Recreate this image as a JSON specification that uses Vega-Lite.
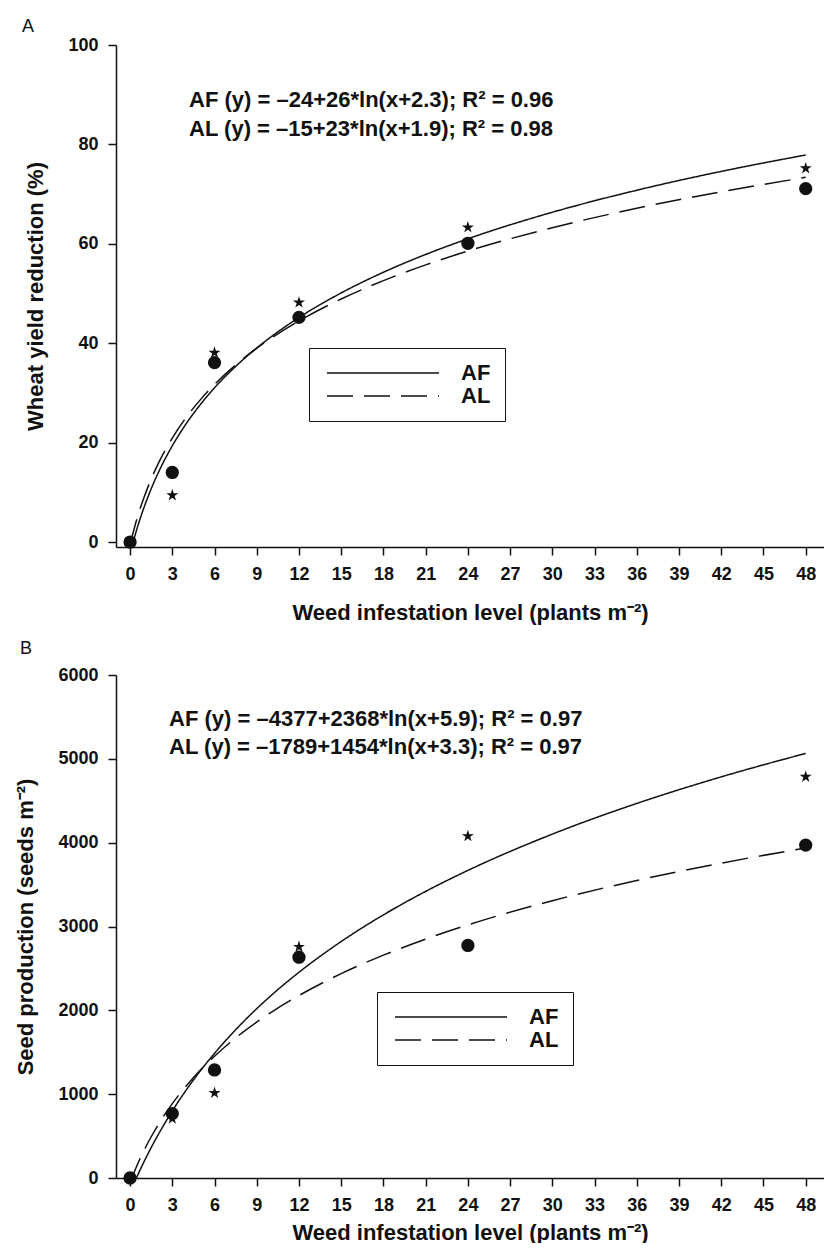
{
  "$schema": "https://vega.github.io/schema/vega-lite/v6.json",
  "background": "white",
  "padding": {"left": 14, "top": 18, "right": 0, "bottom": 0},
  "spacing": 17,
  "config": {
    "view": {"stroke": null},
    "font": "Liberation Sans",
    "axis": {
      "domainColor": "#111", "domainWidth": 1.5, "tickColor": "#111", "tickWidth": 1.5, "tickSize": 8,
      "labelFont": "Liberation Sans", "labelFontSize": 18, "labelFontWeight": "bold", "labelColor": "#111", "labelPadding": 10,
      "titleFont": "Liberation Sans", "titleFontSize": 22, "titleFontWeight": "bold", "titleColor": "#111",
      "grid": false, "labelOverlap": false, "labelFlush": false
    },
    "axisY": {"titlePadding": 20},
    "axisX": {"titlePadding": 19},
    "title": {"font": "Liberation Sans", "fontSize": 18, "fontWeight": "normal", "color": "#111", "anchor": "start", "frame": "group"}
  },
  "datasets": {
    "curves": [
      {"p":"A","s":"AF","x":0,"y":-2.34},{"p":"A","s":"AF","x":0.5,"y":2.77},{"p":"A","s":"AF","x":1,"y":7.04},{"p":"A","s":"AF","x":1.5,"y":10.71},{"p":"A","s":"AF","x":2,"y":13.92},{"p":"A","s":"AF","x":3,"y":19.36},{"p":"A","s":"AF","x":4,"y":23.86},{"p":"A","s":"AF","x":5,"y":27.69},{"p":"A","s":"AF","x":6,"y":31.02},{"p":"A","s":"AF","x":8,"y":36.63},{"p":"A","s":"AF","x":10,"y":41.25},{"p":"A","s":"AF","x":12,"y":45.17},{"p":"A","s":"AF","x":15,"y":50.12},{"p":"A","s":"AF","x":18,"y":54.28},{"p":"A","s":"AF","x":21,"y":57.86},{"p":"A","s":"AF","x":24,"y":61.01},{"p":"A","s":"AF","x":30,"y":66.35},{"p":"A","s":"AF","x":36,"y":70.78},{"p":"A","s":"AF","x":42,"y":74.57},{"p":"A","s":"AF","x":48,"y":77.87},
      {"p":"A","s":"AL","x":0,"y":-0.49},{"p":"A","s":"AL","x":0.5,"y":4.79},{"p":"A","s":"AL","x":1,"y":9.06},{"p":"A","s":"AL","x":1.5,"y":12.66},{"p":"A","s":"AL","x":2,"y":15.76},{"p":"A","s":"AL","x":3,"y":20.92},{"p":"A","s":"AL","x":4,"y":25.12},{"p":"A","s":"AL","x":5,"y":28.65},{"p":"A","s":"AL","x":6,"y":31.71},{"p":"A","s":"AL","x":8,"y":36.81},{"p":"A","s":"AL","x":10,"y":40.97},{"p":"A","s":"AL","x":12,"y":44.48},{"p":"A","s":"AL","x":15,"y":48.9},{"p":"A","s":"AL","x":18,"y":52.59},{"p":"A","s":"AL","x":21,"y":55.76},{"p":"A","s":"AL","x":24,"y":58.54},{"p":"A","s":"AL","x":30,"y":63.25},{"p":"A","s":"AL","x":36,"y":67.15},{"p":"A","s":"AL","x":42,"y":70.47},{"p":"A","s":"AL","x":48,"y":73.37},
      {"p":"B","s":"AF","x":0,"y":-174},{"p":"B","s":"AF","x":0.5,"y":19},{"p":"B","s":"AF","x":1,"y":197},{"p":"B","s":"AF","x":1.5,"y":363},{"p":"B","s":"AF","x":2,"y":517},{"p":"B","s":"AF","x":3,"y":800},{"p":"B","s":"AF","x":4,"y":1052},{"p":"B","s":"AF","x":5,"y":1280},{"p":"B","s":"AF","x":6,"y":1487},{"p":"B","s":"AF","x":8,"y":1855},{"p":"B","s":"AF","x":10,"y":2174},{"p":"B","s":"AF","x":12,"y":2454},{"p":"B","s":"AF","x":15,"y":2821},{"p":"B","s":"AF","x":18,"y":3139},{"p":"B","s":"AF","x":21,"y":3419},{"p":"B","s":"AF","x":24,"y":3669},{"p":"B","s":"AF","x":30,"y":4102},{"p":"B","s":"AF","x":36,"y":4468},{"p":"B","s":"AF","x":42,"y":4785},{"p":"B","s":"AF","x":48,"y":5065},
      {"p":"B","s":"AL","x":0,"y":-53},{"p":"B","s":"AL","x":0.5,"y":152},{"p":"B","s":"AL","x":1,"y":332},{"p":"B","s":"AL","x":1.5,"y":492},{"p":"B","s":"AL","x":2,"y":636},{"p":"B","s":"AL","x":3,"y":887},{"p":"B","s":"AL","x":4,"y":1101},{"p":"B","s":"AL","x":5,"y":1288},{"p":"B","s":"AL","x":6,"y":1453},{"p":"B","s":"AL","x":8,"y":1737},{"p":"B","s":"AL","x":10,"y":1974},{"p":"B","s":"AL","x":12,"y":2177},{"p":"B","s":"AL","x":15,"y":2438},{"p":"B","s":"AL","x":18,"y":2658},{"p":"B","s":"AL","x":21,"y":2850},{"p":"B","s":"AL","x":24,"y":3019},{"p":"B","s":"AL","x":30,"y":3308},{"p":"B","s":"AL","x":36,"y":3549},{"p":"B","s":"AL","x":42,"y":3756},{"p":"B","s":"AL","x":48,"y":3936}
    ],
    "points": [
      {"p":"A","s":"AF","x":0,"y":0},{"p":"A","s":"AF","x":3,"y":9.4},{"p":"A","s":"AF","x":6,"y":38.1},{"p":"A","s":"AF","x":12,"y":48.2},{"p":"A","s":"AF","x":24,"y":63.3},{"p":"A","s":"AF","x":48,"y":75.2},
      {"p":"A","s":"AL","x":0,"y":0},{"p":"A","s":"AL","x":3,"y":14.0},{"p":"A","s":"AL","x":6,"y":36.1},{"p":"A","s":"AL","x":12,"y":45.2},{"p":"A","s":"AL","x":24,"y":60.1},{"p":"A","s":"AL","x":48,"y":71.1},
      {"p":"B","s":"AF","x":0,"y":0},{"p":"B","s":"AF","x":3,"y":709},{"p":"B","s":"AF","x":6,"y":1015},{"p":"B","s":"AF","x":12,"y":2757},{"p":"B","s":"AF","x":24,"y":4078},{"p":"B","s":"AF","x":48,"y":4786},
      {"p":"B","s":"AL","x":0,"y":0},{"p":"B","s":"AL","x":3,"y":768},{"p":"B","s":"AL","x":6,"y":1289},{"p":"B","s":"AL","x":12,"y":2634},{"p":"B","s":"AL","x":24,"y":2774},{"p":"B","s":"AL","x":48,"y":3971}
    ],
    "notes": [
      {"p":"A","x":4.19,"y":87.46,"t":"AF (y) = –24+26*ln(x+2.3); R² = 0.96"},
      {"p":"A","x":4.19,"y":81.74,"t":"AL (y) = –15+23*ln(x+1.9); R² = 0.98"},
      {"p":"B","x":2.77,"y":5391,"t":"AF (y) = –4377+2368*ln(x+5.9); R² = 0.97"},
      {"p":"B","x":2.77,"y":5061,"t":"AL (y) = –1789+1454*ln(x+3.3); R² = 0.97"}
    ]
  },
  "resolve": {"scale": {"x": "independent", "y": "independent", "strokeDash": "independent"}, "legend": {"strokeDash": "independent"}},
  "vconcat": [
    {
      "width": 708, "height": 502,
      "title": {"text": "A", "dx": -94, "offset": 0},
      "layer": [
        {
          "mark": {"type": "rule", "color": "#111", "strokeWidth": 1.5},
          "encoding": {"y": {"datum": 100, "type": "quantitative", "scale": {"domain": [-1, 100], "nice": false}, "axis": {"values": [0,20,40,60,80,100], "title": "Wheat yield reduction (%)"}}}
        },
        {
          "data": {"name": "curves"},
          "transform": [{"filter": "datum.p === 'A'"}],
          "mark": {"type": "line", "color": "#111", "strokeWidth": 1.5, "clip": true, "interpolate": "monotone"},
          "encoding": {
            "x": {"field": "x", "type": "quantitative", "scale": {"domain": [-1, 49.3], "nice": false, "zero": false}, "axis": {"values": [0,3,6,9,12,15,18,21,24,27,30,33,36,39,42,45,48], "title": "Weed infestation level (plants m⁻²)"}},
            "y": {"field": "y", "type": "quantitative", "scale": {"domain": [-1, 100], "nice": false}, "axis": {"values": [0,20,40,60,80,100], "title": "Wheat yield reduction (%)"}},
            "strokeDash": {"field": "s", "type": "nominal", "scale": {"domain": ["AF", "AL"], "range": [[1, 0], [26, 11]]},
              "legend": {"title": null, "orient": "none", "legendX": 193, "legendY": 303, "symbolType": "M-1,0L15,0", "symbolSize": 196, "symbolStrokeWidth": 1.5, "symbolStrokeColor": "#111", "strokeColor": "#111", "fillColor": "white", "padding": 14, "labelFont": "Liberation Sans", "labelFontSize": 22, "labelFontWeight": "bold", "labelColor": "#111", "labelOffset": 116, "rowPadding": 1}}
          }
        },
        {
          "data": {"name": "points"},
          "transform": [{"filter": "datum.p === 'A' && datum.s === 'AF'"}],
          "mark": {"type": "point", "filled": true, "color": "#111", "opacity": 1, "size": 160, "shape": "M0,-1L0.2245,-0.309L0.951,-0.309L0.363,0.118L0.588,0.809L0,0.382L-0.588,0.809L-0.363,0.118L-0.951,-0.309L-0.2245,-0.309Z"},
          "encoding": {"x": {"field": "x", "type": "quantitative"}, "y": {"field": "y", "type": "quantitative"}}
        },
        {
          "data": {"name": "points"},
          "transform": [{"filter": "datum.p === 'A' && datum.s === 'AL'"}],
          "mark": {"type": "point", "filled": true, "color": "#111", "opacity": 1, "size": 177, "shape": "circle"},
          "encoding": {"x": {"field": "x", "type": "quantitative"}, "y": {"field": "y", "type": "quantitative"}}
        },
        {
          "data": {"name": "notes"},
          "transform": [{"filter": "datum.p === 'A'"}],
          "mark": {"type": "text", "align": "left", "baseline": "alphabetic", "font": "Liberation Sans", "fontSize": 22, "fontWeight": "bold", "color": "#111"},
          "encoding": {"x": {"field": "x", "type": "quantitative"}, "y": {"field": "y", "type": "quantitative"}, "text": {"field": "t"}}
        }
      ]
    },
    {
      "width": 708, "height": 503,
      "title": {"text": "B", "dx": -96, "offset": 8},
      "layer": [
        {
          "mark": {"type": "rule", "color": "#111", "strokeWidth": 1.5},
          "encoding": {"y": {"datum": 6000, "type": "quantitative", "scale": {"domain": [0, 6000], "nice": false}, "axis": {"values": [0,1000,2000,3000,4000,5000,6000], "format": "d", "title": "Seed production (seeds m⁻²)"}}}
        },
        {
          "data": {"name": "curves"},
          "transform": [{"filter": "datum.p === 'B'"}],
          "mark": {"type": "line", "color": "#111", "strokeWidth": 1.5, "clip": true, "interpolate": "monotone"},
          "encoding": {
            "x": {"field": "x", "type": "quantitative", "scale": {"domain": [-1, 49.3], "nice": false, "zero": false}, "axis": {"values": [0,3,6,9,12,15,18,21,24,27,30,33,36,39,42,45,48], "title": "Weed infestation level (plants m⁻²)", "titlePadding": 8}},
            "y": {"field": "y", "type": "quantitative", "scale": {"domain": [0, 6000], "nice": false}, "axis": {"values": [0,1000,2000,3000,4000,5000,6000], "format": "d", "title": "Seed production (seeds m⁻²)"}},
            "strokeDash": {"field": "s", "type": "nominal", "scale": {"domain": ["AF", "AL"], "range": [[1, 0], [26, 11]]},
              "legend": {"title": null, "orient": "none", "legendX": 261, "legendY": 317, "symbolType": "M-1,0L15,0", "symbolSize": 196, "symbolStrokeWidth": 1.5, "symbolStrokeColor": "#111", "strokeColor": "#111", "fillColor": "white", "padding": 14, "labelFont": "Liberation Sans", "labelFontSize": 22, "labelFontWeight": "bold", "labelColor": "#111", "labelOffset": 116, "rowPadding": 1}}
          }
        },
        {
          "data": {"name": "points"},
          "transform": [{"filter": "datum.p === 'B' && datum.s === 'AF'"}],
          "mark": {"type": "point", "filled": true, "color": "#111", "opacity": 1, "size": 160, "shape": "M0,-1L0.2245,-0.309L0.951,-0.309L0.363,0.118L0.588,0.809L0,0.382L-0.588,0.809L-0.363,0.118L-0.951,-0.309L-0.2245,-0.309Z"},
          "encoding": {"x": {"field": "x", "type": "quantitative"}, "y": {"field": "y", "type": "quantitative"}}
        },
        {
          "data": {"name": "points"},
          "transform": [{"filter": "datum.p === 'B' && datum.s === 'AL'"}],
          "mark": {"type": "point", "filled": true, "color": "#111", "opacity": 1, "size": 177, "shape": "circle"},
          "encoding": {"x": {"field": "x", "type": "quantitative"}, "y": {"field": "y", "type": "quantitative"}}
        },
        {
          "data": {"name": "notes"},
          "transform": [{"filter": "datum.p === 'B'"}],
          "mark": {"type": "text", "align": "left", "baseline": "alphabetic", "font": "Liberation Sans", "fontSize": 22, "fontWeight": "bold", "color": "#111"},
          "encoding": {"x": {"field": "x", "type": "quantitative"}, "y": {"field": "y", "type": "quantitative"}, "text": {"field": "t"}}
        }
      ]
    }
  ]
}
